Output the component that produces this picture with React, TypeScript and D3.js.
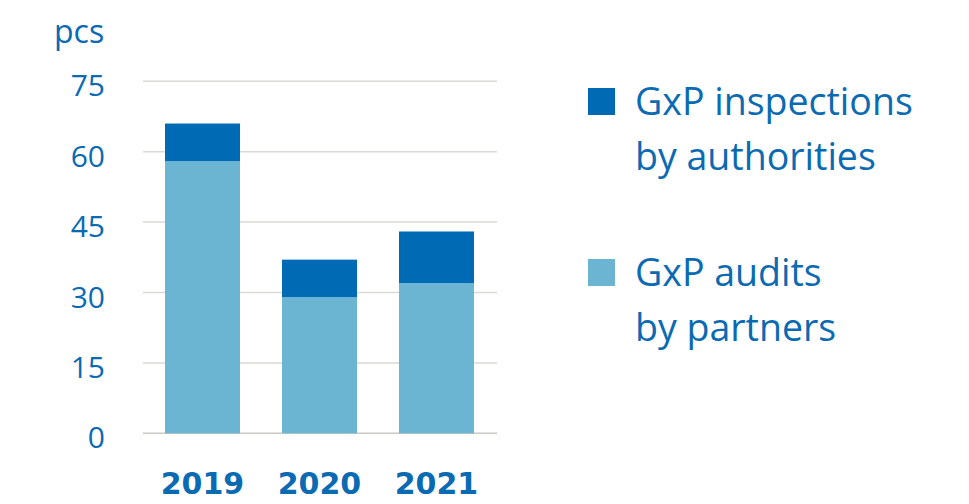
import React from "react";
import * as d3 from "d3";

const years = ["2019", "2020", "2021"];
const audits = [58, 29, 32];
const inspections = [8, 8, 11];
const yTicks = [0, 15, 30, 45, 60, 75];
const legendItems = [
  { lines: ["GxP inspections", "by authorities"], key: "inspections" },
  { lines: ["GxP audits", "by partners"], key: "audits" },
];

const DARK = "#006ab4";
const LIGHT = "#6bb4d2";
const TEXT = "#0a6ab2";

export default function App() {
  const W = 969, H = 504;
  const x = d3.scaleBand().domain(years).range([144, 495]).paddingInner(0.359).paddingOuter(0.1795);
  const y = d3.scaleLinear().domain([0, 75]).range([433.3, 81.3]);
  const stackData = years.map((yr, i) => ({ year: yr, audits: audits[i], inspections: inspections[i] }));
  const series = d3.stack<any>().keys(["audits", "inspections"])(stackData);
  const colors: Record<string, string> = { audits: LIGHT, inspections: DARK };
  const font = "'Open Sans', 'Noto Sans', sans-serif";

  return (
    <svg width={W} height={H} style={{ position: "absolute", left: 0, top: 0, background: "#fff" }}>
      <rect width={W} height={H} fill="#fff" />
      {yTicks.map((t) => (
        <g key={t}>
          <line x1={143} x2={497} y1={y(t)} y2={y(t)} stroke={t === 0 ? "#c9c9c6" : "#d9d9d5"} strokeWidth={1.5} />
          <text x={105} y={y(t) + 15} textAnchor="end" fill={TEXT} fontFamily={font} fontSize={30}>{t}</text>
        </g>
      ))}
      <text x={54} y={43} fill={TEXT} fontFamily={font} fontSize={32}>pcs</text>
      {series.map((s) => (
        <g key={s.key} fill={colors[s.key]}>
          {s.map((d: any, i: number) => (
            <rect key={i} x={x(years[i])} width={x.bandwidth()} y={y(d[1])} height={y(d[0]) - y(d[1])} />
          ))}
        </g>
      ))}
      {years.map((yr) => (
        <text key={yr} x={(x(yr) as number) + x.bandwidth() / 2} y={494} textAnchor="middle" fill={TEXT}
          fontFamily="'DejaVu Sans', sans-serif" fontWeight="bold" fontSize={30}>{yr}</text>
      ))}
      {legendItems.map((it, i) => (
        <g key={it.key} transform={`translate(588, ${88 + i * 171})`}>
          <rect width={27} height={27} fill={colors[it.key]} />
          {it.lines.map((ln, j) => (
            <text key={j} x={47} y={27 + j * 55} fill={TEXT} fontFamily={font} fontSize={37.5}>{ln}</text>
          ))}
        </g>
      ))}
    </svg>
  );
}
